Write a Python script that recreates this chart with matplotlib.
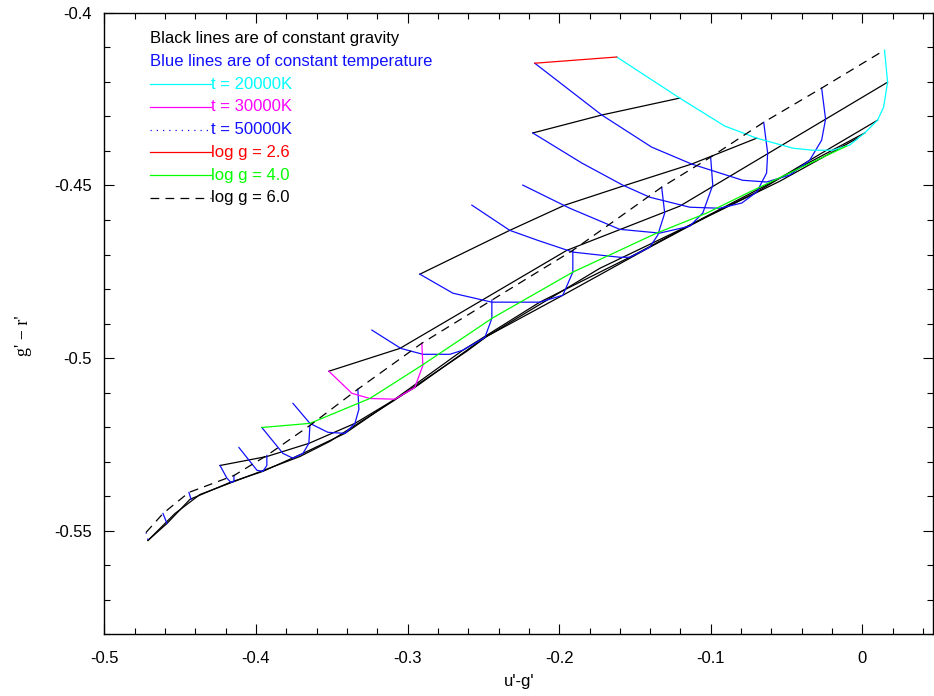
import matplotlib
matplotlib.use("Agg")
import matplotlib.pyplot as plt
from matplotlib.ticker import MultipleLocator, FuncFormatter

plt.rcParams['font.family'] = ['Liberation Sans', 'DejaVu Sans']

# constant temperature tracks, coolest first (u'-g', g'-r')
t1_ug = [-0.1620, -0.1205, -0.0908, -0.0697, -0.0460, -0.0328, -0.0196, -0.0084, 0.0015, 0.0100, 0.0140, 0.0166, 0.0146]
t1_gr = [-0.4128, -0.4247, -0.4328, -0.4363, -0.4392, -0.4398, -0.4398, -0.4383, -0.4348, -0.4311, -0.4273, -0.4201, -0.4108]
t2_ug = [-0.2161, -0.1719, -0.1390, -0.1126, -0.0790, -0.0632, -0.0480, -0.0348, -0.0269, -0.0243, -0.0269]
t2_gr = [-0.4146, -0.4296, -0.4389, -0.4438, -0.4485, -0.4490, -0.4470, -0.4427, -0.4369, -0.4308, -0.4218]
t3_ug = [-0.2174, -0.1851, -0.1581, -0.1403, -0.1139, -0.0941, -0.0796, -0.0697, -0.0632, -0.0625, -0.0651]
t3_gr = [-0.4348, -0.4435, -0.4499, -0.4534, -0.4563, -0.4566, -0.4551, -0.4519, -0.4464, -0.4406, -0.4317]
t4_ug = [-0.2240, -0.1930, -0.1601, -0.1337, -0.1139, -0.1053, -0.0987, -0.1001]
t4_gr = [-0.4499, -0.4566, -0.4627, -0.4638, -0.4618, -0.4580, -0.4499, -0.4418]
t5_ug = [-0.2576, -0.2326, -0.2141, -0.1910, -0.1601, -0.1535, -0.1403, -0.1350, -0.1304, -0.1324]
t5_gr = [-0.4557, -0.4630, -0.4659, -0.4693, -0.4708, -0.4708, -0.4679, -0.4644, -0.4580, -0.4505]
t6_ug = [-0.2919, -0.2701, -0.2523, -0.2444, -0.2128, -0.1976, -0.1910, -0.1910]
t6_gr = [-0.4757, -0.4812, -0.4830, -0.4838, -0.4838, -0.4818, -0.4751, -0.4688]
t7_ug = [-0.3235, -0.3044, -0.2899, -0.2721, -0.2635, -0.2556, -0.2490, -0.2444, -0.2444]
t7_gr = [-0.4919, -0.4972, -0.4989, -0.4989, -0.4977, -0.4957, -0.4940, -0.4885, -0.4832]
t8_ug = [-0.3519, -0.3367, -0.3249, -0.3084, -0.2952, -0.2899, -0.2906]
t8_gr = [-0.5038, -0.5102, -0.5117, -0.5119, -0.5085, -0.5021, -0.4957]
t9_ug = [-0.3756, -0.3644, -0.3525, -0.3413, -0.3347, -0.3321, -0.3328]
t9_gr = [-0.5131, -0.5189, -0.5215, -0.5218, -0.5189, -0.5148, -0.5090]
t10_ug = [-0.3961, -0.3822, -0.3756, -0.3690, -0.3651, -0.3644]
t10_gr = [-0.5201, -0.5276, -0.5290, -0.5276, -0.5247, -0.5195]
t11_ug = [-0.4112, -0.3993, -0.3954, -0.3928, -0.3928]
t11_gr = [-0.5259, -0.5325, -0.5328, -0.5311, -0.5282]
t12_ug = [-0.4237, -0.4191, -0.4165, -0.4145, -0.4145]
t12_gr = [-0.5311, -0.5348, -0.5360, -0.5357, -0.5340]
t13_ug = [-0.4442, -0.4428]
t13_gr = [-0.5389, -0.5409]
t14_ug = [-0.4613, -0.4587]
t14_gr = [-0.5450, -0.5479]
t15_ug = [-0.4725, -0.4712]
t15_gr = [-0.5505, -0.5528]

# constant gravity tracks
g26_ug = [-0.2161, -0.1620]
g26_gr = [-0.4146, -0.4128]
g30_ug = [-0.2174, -0.1719, -0.1205]
g30_gr = [-0.4348, -0.4296, -0.4247]
g35_ug = [-0.2919, -0.2326, -0.1963, -0.1581, -0.1126, -0.0697]
g35_gr = [-0.4757, -0.4630, -0.4557, -0.4502, -0.4438, -0.4363]
g38_ug = [-0.3519, -0.3051, -0.2589, -0.1950, -0.1205, 0.0166]
g38_gr = [-0.5038, -0.4972, -0.4853, -0.4688, -0.4560, -0.4201]
g40_ug = [-0.3961, -0.3644, -0.3249, -0.2906, -0.2589, -0.2444, -0.1910, -0.1357, -0.1027, -0.0744, -0.0414, -0.0104]
g40_gr = [-0.5201, -0.5189, -0.5117, -0.5021, -0.4928, -0.4885, -0.4751, -0.4638, -0.4580, -0.4519, -0.4450, -0.4386]
g45_ug = [-0.4712, -0.4534, -0.4369, -0.4105, -0.3710, -0.3512, -0.3097, -0.2609, -0.2477, -0.1732, -0.1073, -0.0546, -0.0032]
g45_gr = [-0.5528, -0.5450, -0.5395, -0.5351, -0.5285, -0.5241, -0.5125, -0.4980, -0.4937, -0.4740, -0.4601, -0.4488, -0.4363]
g50_ug = [-0.4237, -0.3928, -0.3651, -0.3347, -0.2952, -0.2490, -0.1976, -0.1403, -0.1007, -0.0697, -0.0348, 0.0100]
g50_gr = [-0.5311, -0.5285, -0.5247, -0.5189, -0.5085, -0.4940, -0.4818, -0.4679, -0.4586, -0.4519, -0.4427, -0.4311]
g55_ug = [-0.4712, -0.4587, -0.4435, -0.4171, -0.3954, -0.3690, -0.3413, -0.3084, -0.2635, -0.2128, -0.1535, -0.1053, -0.0546, 0.0015]
g55_gr = [-0.5528, -0.5479, -0.5409, -0.5360, -0.5328, -0.5276, -0.5218, -0.5119, -0.4977, -0.4838, -0.4708, -0.4595, -0.4479, -0.4348]
g60_ug = [-0.4725, -0.4613, -0.4442, -0.4145, -0.3928, -0.3644, -0.3328, -0.2906, -0.2444, -0.1910, -0.1324, -0.1001, -0.0651, -0.0269, 0.0146]
g60_gr = [-0.5505, -0.5450, -0.5389, -0.5340, -0.5282, -0.5195, -0.5090, -0.4957, -0.4832, -0.4688, -0.4505, -0.4418, -0.4317, -0.4218, -0.4108]

legend_labels = ['t = 20000K', 't = 30000K', 't = 50000K', 'log g = 2.6', 'log g = 4.0', 'log g = 6.0']

fig = plt.figure(figsize=(9.34, 6.96), dpi=100)
ax = fig.add_axes([0.1117, 0.0886, 0.8873, 0.8930])

lw = 0.9
blue = '#1010ff'
for xs, ys in [(g30_ug, g30_gr), (g35_ug, g35_gr), (g38_ug, g38_gr),
               (g45_ug, g45_gr), (g50_ug, g50_gr), (g55_ug, g55_gr)]:
    ax.plot(xs, ys, color='black', lw=lw)

for xs, ys in [(t2_ug, t2_gr), (t3_ug, t3_gr), (t4_ug, t4_gr), (t5_ug, t5_gr),
               (t6_ug, t6_gr), (t7_ug, t7_gr), (t9_ug, t9_gr), (t10_ug, t10_gr),
               (t11_ug, t11_gr), (t12_ug, t12_gr), (t13_ug, t13_gr), (t14_ug, t14_gr)]:
    ax.plot(xs, ys, color=blue, lw=lw)

ax.plot(t1_ug, t1_gr, color='#00ffff', lw=lw)
ax.plot(t8_ug, t8_gr, color='#ff00ff', lw=lw)
ax.plot(t15_ug, t15_gr, color=blue, lw=lw, dashes=(1, 4))
ax.plot(g26_ug, g26_gr, color='#ff0000', lw=lw)
ax.plot(g40_ug, g40_gr, color='#00ff00', lw=lw)
ax.plot(g60_ug, g60_gr, color='black', lw=lw, dashes=(7, 5))

ax.set_xlim(-0.5, 0.0466)
ax.set_ylim(-0.58, -0.4)
ax.xaxis.set_major_locator(MultipleLocator(0.1))
ax.xaxis.set_minor_locator(MultipleLocator(0.02))
ax.yaxis.set_major_locator(MultipleLocator(0.05))
ax.yaxis.set_minor_locator(MultipleLocator(0.01))
fmt = FuncFormatter(lambda v, p: '%g' % round(v, 3))
ax.xaxis.set_major_formatter(fmt)
ax.yaxis.set_major_formatter(fmt)
ax.tick_params(which='both', direction='in', top=True, right=True, labelsize=12, width=0.8)
ax.tick_params(which='major', length=7)
ax.tick_params(which='minor', length=4)
ax.tick_params(axis='x', which='major', pad=12)
ax.tick_params(axis='y', which='major', pad=9)
for s in ax.spines.values():
    s.set_linewidth(1.0)

ax.set_xlabel("u'-g'", fontsize=12, labelpad=6)
ax.set_ylabel("g' \u2212 r'", fontsize=13, family=['Liberation Serif', 'DejaVu Serif'])
ax.yaxis.set_label_coords(-0.087, 0.48)

# key drawn inside the axes
ax.text(0.0557, 0.958, 'Black lines are of constant gravity', transform=ax.transAxes,
        color='black', fontsize=12, va='center')
ax.text(0.0557, 0.922, 'Blue lines are of constant temperature', transform=ax.transAxes,
        color=blue, fontsize=12, va='center')
key_styles = [('#00ffff', None), ('#ff00ff', None), (blue, (1, 4)),
              ('#ff0000', None), ('#00ff00', None), ('black', (7, 5))]
for i, (lab, (col, dsh)) in enumerate(zip(legend_labels, key_styles)):
    yk = 0.885 - i * 0.0365
    ln, = ax.plot([0.0557, 0.1282], [yk, yk], transform=ax.transAxes, color=col, lw=lw)
    if dsh is not None:
        ln.set_dashes(dsh)
    ax.text(0.1282, yk, lab, transform=ax.transAxes, color=col, fontsize=12, va='center')

fig.savefig('out.png', dpi=100)
